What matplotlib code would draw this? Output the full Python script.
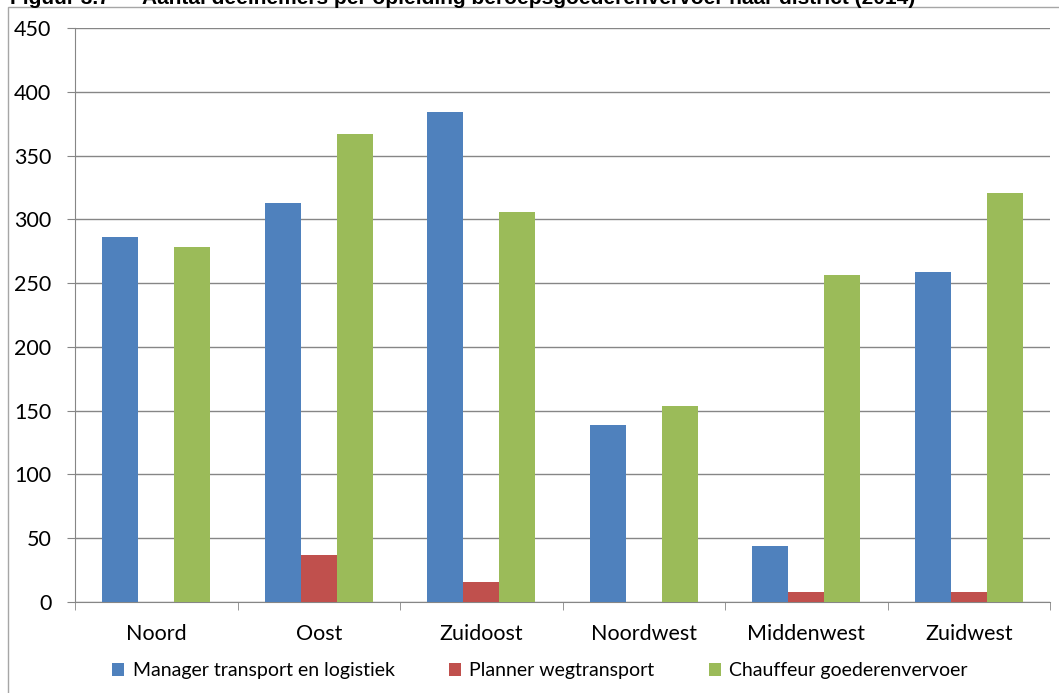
import matplotlib.pyplot as plt
import numpy as np
from matplotlib.patches import Rectangle

districten = ["Noord", "Oost", "Zuidoost", "Noordwest", "Middenwest", "Zuidwest"]
manager = [286, 313, 384, 139, 44, 259]
planner = [0, 37, 16, 0, 8, 8]
chauffeur = [278, 367, 306, 154, 256, 321]
reeksen = ["Manager transport en logistiek", "Planner wegtransport", "Chauffeur goederenvervoer"]
kleuren = ["#4F81BD", "#C0504D", "#9BBB59"]

plt.rcParams['font.family'] = ['Lato', 'DejaVu Sans']

fig = plt.figure(figsize=(10.59, 6.93), dpi=100)
ax = fig.add_axes([75 / 1059, 91 / 693, 975 / 1059, 574 / 693])

x = np.arange(len(districten))
w = 0.222
for i, (vals, kl) in enumerate(zip([manager, planner, chauffeur], kleuren)):
    ax.bar(x + (i - 1) * w, vals, w, color=kl, label=reeksen[i], zorder=3)

ax.set_xlim(-0.5, len(districten) - 0.5)
ax.set_ylim(0, 450)
ax.set_yticks(range(0, 451, 50))
ax.yaxis.grid(True, color="#868686", linewidth=1, zorder=0)
ax.set_xticks(x)
ax.set_xticklabels(districten, fontsize=15.5)
ax.tick_params(axis='x', length=0, pad=16)
ax.set_xticks(np.arange(-0.5, len(districten), 1), minor=True)
ax.tick_params(axis='x', which='minor', length=6, color="#868686", direction='out')
ax.tick_params(axis='y', length=6, color="#868686", labelsize=15.5, pad=11)
for s in ['top', 'right']:
    ax.spines[s].set_visible(False)
for s in ['left', 'bottom']:
    ax.spines[s].set_color("#868686")

fig.legend(loc='center', bbox_to_anchor=(0.51, 0.032), ncol=3, frameon=False,
           fontsize=14, handlelength=0.6, handleheight=0.6, columnspacing=2.8,
           handletextpad=0.45)

# buitenrand van de grafiek
fig.patches.append(Rectangle((8 / 1059, -0.1), 1.2, 0.1 + (693 - 7) / 693,
                             transform=fig.transFigure, fill=False,
                             edgecolor="#A6A6A6", linewidth=1))

fig.text(10 / 1059, 1 - 4 / 693, "Figuur 3.7", fontsize=15, fontweight='bold',
         family=['Liberation Sans', 'DejaVu Sans'], va='baseline')
fig.text(142 / 1059, 1 - 4 / 693,
         "Aantal deelnemers per opleiding beroepsgoederenvervoer naar district (2014)",
         fontsize=15, fontweight='bold', family=['Liberation Sans', 'DejaVu Sans'],
         va='baseline')

fig.savefig("out.png", dpi=100)
